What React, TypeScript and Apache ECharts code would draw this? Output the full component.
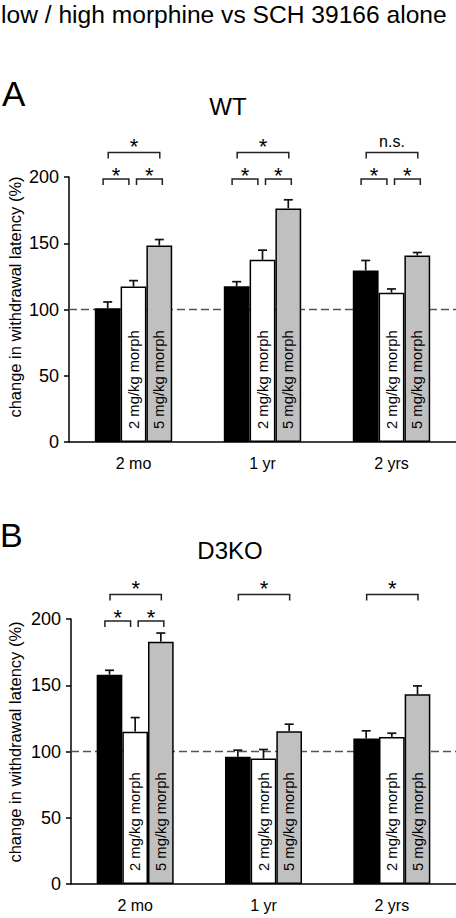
import React, { useEffect, useRef } from 'react';
import * as echarts from 'echarts';

const ages = ['2 mo', '1 yr', '2 yrs'];
const doseLabels = ['', '2 mg/kg morph', '5 mg/kg morph'];
const yTickStep = 50;
const yMax = 200;
const baselineValue = 100;

// Panel A (WT): SCH 39166 alone, + 2 mg/kg morphine, + 5 mg/kg morphine
const wtSch = [101, 117.5, 129.5];
const wtSchSem = [4.7, 3.5, 7.5];
const wtLow = [117.3, 137.5, 112.7];
const wtLowSem = [4.5, 7.3, 2.8];
const wtHigh = [148.3, 176.3, 140.7];
const wtHighSem = [4.5, 6.5, 2.3];

// Panel B (D3KO)
const koSch = [158, 96, 109.8];
const koSchSem = [3.3, 5, 5.8];
const koLow = [115, 94.7, 111];
const koLowSem = [10.6, 6.8, 2.8];
const koHigh = [182.9, 115.3, 143.2];
const koHighSem = [6.5, 5.3, 6.3];

// significance brackets: [category, fromBar, toBar, level]
const wtBrackets = [
  [0, 0, 1, 0], [0, 1, 2, 0], [0, 0, 2, 1],
  [1, 0, 1, 0], [1, 1, 2, 0], [1, 0, 2, 1],
  [2, 0, 1, 0], [2, 1, 2, 0], [2, 0, 2, 1],
];
const wtMarks = ['*', '*', '*', '*', '*', '*', '*', '*', 'n.s.'];
const koBrackets = [
  [0, 0, 1, 0], [0, 1, 2, 0], [0, 0, 2, 1],
  [1, 0, 2, 1],
  [2, 0, 2, 1],
];
const koMarks = ['*', '*', '*', '*', '*'];
const bracketLevels = [198.5, 218.5];

const FONT = '"Liberation Sans", Arial, Helvetica, sans-serif';
const GREY = '#c0c0c0';
const barFills = ['#000000', '#ffffff', GREY];

function barWidthOf(api: any) {
  const band = api.size([1, 0])[0];
  return (band * 0.6) / 3;
}

function errRender(params: any, api: any) {
  const cat = api.value(0);
  const bar = api.value(1);
  const v = api.value(2);
  const e = api.value(3);
  const bw = barWidthOf(api);
  const base = api.coord([cat, v]);
  const top = api.coord([cat, v + e]);
  const x = base[0] + (bar - 1) * bw;
  const st = { stroke: '#111', lineWidth: 1.7 };
  return {
    type: 'group',
    children: [
      { type: 'line', shape: { x1: x, y1: base[1], x2: x, y2: top[1] }, style: st },
      { type: 'line', shape: { x1: x - 4.5, y1: top[1], x2: x + 4.5, y2: top[1] }, style: st },
    ],
  };
}

function makeBracketRender(marks: string[]) {
  return (params: any, api: any) => {
    const cat = api.value(0);
    const from = api.value(1);
    const to = api.value(2);
    const level = api.value(3);
    const bw = barWidthOf(api);
    const c = api.coord([cat, bracketLevels[level]]);
    const shift = level === 1 ? 0.5 : from === 0 ? -4.6 : 3;
    const x1 = c[0] + (from - 1) * bw + shift;
    const x2 = c[0] + (to - 1) * bw + shift;
    const y = c[1];
    const drop = 6;
    const mark = marks[params.dataIndex];
    const isStar = mark === '*';
    const above = level === 1 ? 11.4 : 8.6;
    const fs = isStar ? 22 : 16;
    const ty = isStar ? y - above + 0.23 * fs : y - above;
    const st = { stroke: '#222', lineWidth: 1.5, fill: 'none' };
    return {
      type: 'group',
      children: [
        {
          type: 'polyline',
          shape: { points: [[x1, y + drop], [x1, y], [x2, y], [x2, y + drop]] },
          style: st,
        },
        {
          type: 'text',
          x: (x1 + x2) / 2,
          y: ty,
          style: {
            text: mark,
            align: 'center',
            verticalAlign: 'middle',
            font: `${fs}px ${FONT}`,
            fill: '#000',
          },
        },
      ],
    };
  };
}

function panelSeries(
  gridIdx: number,
  values: number[][],
  sems: number[][],
  brackets: number[][],
  marks: string[]
) {
  const catX = gridIdx * 2;
  const valX = gridIdx * 2 + 1;
  const series: any[] = [];
  series.push({
    type: 'line',
    xAxisIndex: valX,
    yAxisIndex: gridIdx,
    data: [[0, baselineValue], [1, baselineValue]],
    symbol: 'none',
    silent: true,
    z: 1,
    lineStyle: { color: '#555', width: 1.3, type: [8, 4] },
  });
  values.forEach((vals, i) => {
    series.push({
      type: 'bar',
      xAxisIndex: catX,
      yAxisIndex: gridIdx,
      data: vals,
      barGap: '0%',
      barCategoryGap: '40%',
      z: 2,
      itemStyle: { color: barFills[i], borderColor: '#000', borderWidth: 1.5 },
      label: doseLabels[i]
        ? {
            show: true,
            position: 'insideBottom',
            rotate: 90,
            align: 'left',
            verticalAlign: 'middle',
            distance: 13,
            formatter: doseLabels[i],
            color: '#000',
            fontSize: 14.8,
            fontFamily: FONT,
          }
        : { show: false },
    });
  });
  const errData: number[][] = [];
  values.forEach((vals, i) => {
    vals.forEach((v, c) => errData.push([c, i, v, sems[i][c]]));
  });
  series.push({
    type: 'custom',
    xAxisIndex: catX,
    yAxisIndex: gridIdx,
    renderItem: errRender,
    encode: { x: 0, y: 2 },
    data: errData,
    z: 3,
    silent: true,
  });
  series.push({
    type: 'custom',
    xAxisIndex: catX,
    yAxisIndex: gridIdx,
    renderItem: makeBracketRender(marks),
    encode: { x: 0, y: 3 },
    data: brackets,
    clip: false,
    z: 3,
    silent: true,
  });
  return series;
}

function catAxis(gridIndex: number) {
  return {
    type: 'category',
    gridIndex,
    data: ages,
    axisLine: { lineStyle: { color: '#000', width: 1.5 } },
    axisTick: { show: false },
    axisLabel: { color: '#000', fontSize: 16, fontFamily: FONT, margin: 13 },
  };
}

function hiddenAxis(gridIndex: number) {
  return { type: 'value', gridIndex, min: 0, max: 1, show: false };
}

function valAxis(gridIndex: number) {
  return {
    type: 'value',
    gridIndex,
    min: 0,
    max: yMax,
    interval: yTickStep,
    axisLine: { show: true, lineStyle: { color: '#000', width: 1.5 } },
    axisTick: { show: true, length: 5, lineStyle: { color: '#000', width: 1.5 } },
    axisLabel: { color: '#000', fontSize: 18, fontFamily: FONT, margin: 10 },
    splitLine: { show: false },
  };
}

function txt(text: string, x: number, y: number, size: number, align = 'left', rotation = 0) {
  return {
    type: 'text',
    x,
    y,
    rotation,
    style: { text, font: `${size}px ${FONT}`, fill: '#000', align, verticalAlign: 'middle' },
  };
}

export default function App() {
  const ref = useRef<HTMLDivElement>(null);
  useEffect(() => {
    if (!ref.current) return;
    const chart = echarts.init(ref.current, undefined, { renderer: 'svg' });
    chart.setOption({
      animation: false,
      backgroundColor: '#fff',
      grid: [
        { left: 69, top: 177, width: 387, height: 265 },
        { left: 71, top: 619, width: 387, height: 265 },
      ],
      xAxis: [catAxis(0), hiddenAxis(0), catAxis(1), hiddenAxis(1)],
      yAxis: [valAxis(0), valAxis(1)],
      graphic: [
        txt('low / high morphine vs SCH 39166 alone', 1, 14, 24.6),
        txt('A', 2, 93, 35),
        txt('WT', 228, 106, 24, 'center'),
        txt('B', 0, 535, 34),
        txt('D3KO', 230, 550, 24, 'center'),
        txt('change in withdrawal latency (%)', 15, 297, 16.5, 'center', Math.PI / 2),
        txt('change in withdrawal latency (%)', 15, 742, 16.5, 'center', Math.PI / 2),
      ],
      series: [
        ...panelSeries(0, [wtSch, wtLow, wtHigh], [wtSchSem, wtLowSem, wtHighSem], wtBrackets, wtMarks),
        ...panelSeries(1, [koSch, koLow, koHigh], [koSchSem, koLowSem, koHighSem], koBrackets, koMarks),
      ],
    });
    return () => chart.dispose();
  }, []);
  return (
    <div
      ref={ref}
      style={{ position: 'absolute', left: 0, top: 0, width: 456, height: 918, background: '#fff' }}
    />
  );
}
